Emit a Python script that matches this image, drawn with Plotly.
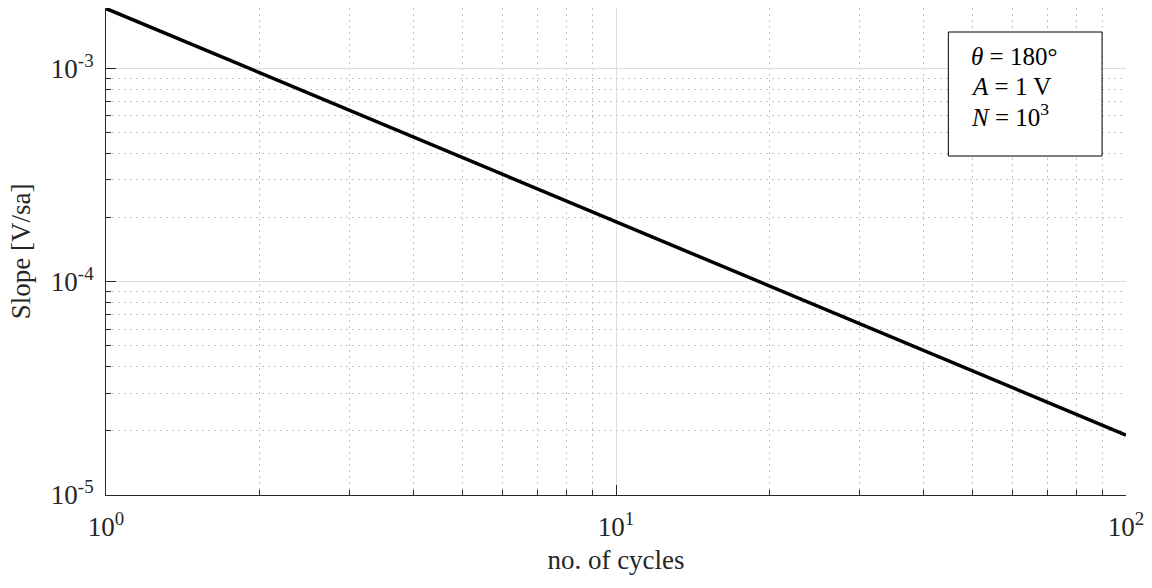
import numpy as np
import plotly.graph_objects as go

# Slope of the ramp versus number of cycles (theta = 180 deg, A = 1 V, N = 1e3)
cycles = [1, 2, 5, 10, 20, 50, 100]
slope = [1.91e-3, 9.55e-4, 3.82e-4, 1.91e-4, 9.55e-5, 3.82e-5, 1.91e-5]

x_ticks = [1, 10, 100]
x_ticktext = ["10<sup>0</sup>", "10<sup>1</sup>", "10<sup>2</sup>"]
y_ticks = [1e-5, 1e-4, 1e-3]
y_ticktext = ["10<sup>-5</sup>", "10<sup>-4</sup>", "10<sup>-3</sup>"]

# Parameter box lines
param_lines = ["<i>θ</i> = 180°", "<i>A</i> = 1 V", "<i>N</i> = 10<sup>3</sup>"]

x_minor = [m * d for d in (1, 10) for m in range(2, 10)]
y_minor = [m * d for d in (1e-5, 1e-4, 1e-3) for m in range(2, 10)]

FONT = "Liberation Serif, serif"
AXIS_COLOR = "#262626"
TEXT_COLOR = "#262626"

fig = go.Figure()
fig.add_trace(go.Scatter(
    x=cycles, y=slope, mode="lines",
    line=dict(color="black", width=3.5),
    showlegend=False,
))

common = dict(
    type="log",
    showline=True, linecolor=AXIS_COLOR, linewidth=1,
    ticks="inside", ticklen=10, tickcolor=AXIS_COLOR, tickwidth=1,
    tickmode="array",
    showgrid=True, gridcolor="#dedede", gridwidth=1,
    zeroline=False,
    tickfont=dict(family=FONT, size=27, color=TEXT_COLOR),
    mirror=False,
)

minor_style = dict(tickmode="array", ticks="inside", ticklen=5, tickcolor=AXIS_COLOR,
                   showgrid=True, gridcolor="#c4c4c4", griddash="2px,4px", gridwidth=1)

fig.update_xaxes(
    **common,
    range=[0, 2],
    tickvals=x_ticks, ticktext=x_ticktext,
    ticklabelstandoff=8,
    minor=dict(tickvals=x_minor, **minor_style),
    title=dict(text="no. of cycles", font=dict(family=FONT, size=27, color=TEXT_COLOR),
               standoff=8),
)
fig.update_yaxes(
    **common,
    range=[-5, np.log10(1.92e-3)],
    tickvals=y_ticks, ticktext=y_ticktext,
    ticklabelstandoff=6,
    minor=dict(tickvals=y_minor, **minor_style),
    title=dict(text="Slope [V/sa]", font=dict(family=FONT, size=27, color=TEXT_COLOR),
               standoff=12),
)

# Parameter box
L, R, T, B = 106, 1128, 8, 495
W, H = R - L, B - T
def px(x):
    return (x - L) / W
def py(y):
    return (B - y) / H

fig.add_shape(type="rect", xref="paper", yref="paper",
              x0=px(950), x1=px(1104), y0=py(156), y1=py(32),
              line=dict(color="black", width=1), fillcolor="white", layer="above")
for i, line in enumerate(param_lines):
    fig.add_annotation(
        xref="paper", yref="paper", x=px(972), y=py(57 + 29 * i),
        xanchor="left", yanchor="middle", align="left", showarrow=False,
        borderpad=0,
        text=line,
        font=dict(family=FONT, size=25, color="black"),
    )

fig.update_layout(
    width=1152, height=588,
    margin=dict(l=L, r=1152 - R, t=T, b=588 - B),
    plot_bgcolor="white", paper_bgcolor="white",
)

fig.write_html("out.html")
